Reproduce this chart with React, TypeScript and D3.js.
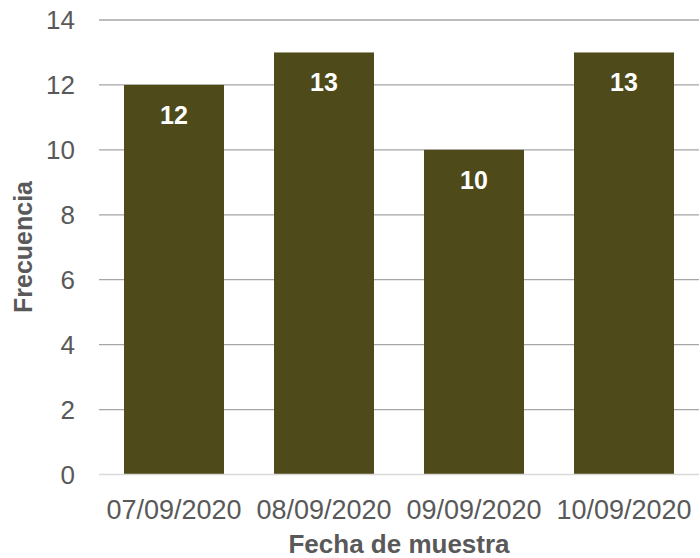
import React from "react";
import * as d3 from "d3";

const categories = ["07/09/2020", "08/09/2020", "09/09/2020", "10/09/2020"];
const values = [12, 13, 10, 13];
const yTicks = [0, 2, 4, 6, 8, 10, 12, 14];

const W = 700;
const H = 558;
const FONT = "'Liberation Sans', Arial, Helvetica, sans-serif";

export default function App() {
  const x = d3
    .scaleBand<string>()
    .domain(categories)
    .range([99, 699])
    .paddingInner(1 / 3)
    .paddingOuter(1 / 6);
  const y = d3.scaleLinear().domain([0, 14]).range([474.5, 20]);

  return (
    <svg
      width={W}
      height={H}
      style={{ position: "absolute", left: 0, top: 0, background: "#fff" }}
    >
      {yTicks.map((t) => (
        <g key={t}>
          {t !== 0 && (
            <line
              x1={99}
              x2={699}
              y1={y(t)}
              y2={y(t)}
              stroke="#a6a6a6"
              strokeWidth={1.3}
            />
          )}
          <text
            x={75}
            y={y(t)}
            dy="0.35em"
            textAnchor="end"
            fontFamily={FONT}
            fontSize={26}
            fill="#595959"
          >
            {t}
          </text>
        </g>
      ))}
      {categories.map((c, i) => (
        <g key={c}>
          <rect
            x={x(c)}
            y={y(values[i])}
            width={x.bandwidth()}
            height={y(0) - y(values[i])}
            fill="#4e4a19"
          />
          <text
            x={(x(c) as number) + x.bandwidth() / 2}
            y={y(values[i]) + 39}
            textAnchor="middle"
            fontFamily={FONT}
            fontWeight="bold"
            fontSize={25}
            fill="#ffffff"
          >
            {values[i]}
          </text>
          <text
            x={(x(c) as number) + x.bandwidth() / 2}
            y={519}
            textAnchor="middle"
            fontFamily={FONT}
            fontSize={27}
            fill="#595959"
          >
            {c}
          </text>
        </g>
      ))}
      <line
        x1={99}
        x2={699}
        y1={y(0)}
        y2={y(0)}
        stroke="#d9d9d9"
        strokeWidth={1.5}
      />
      <text
        x={399}
        y={553}
        textAnchor="middle"
        fontFamily={FONT}
        fontWeight="bold"
        fontSize={26}
        fill="#595959"
      >
        Fecha de muestra
      </text>
      <text
        transform={`translate(32, 247) rotate(-90)`}
        textAnchor="middle"
        fontFamily={FONT}
        fontWeight="bold"
        fontSize={25}
        fill="#595959"
      >
        Frecuencia
      </text>
    </svg>
  );
}
